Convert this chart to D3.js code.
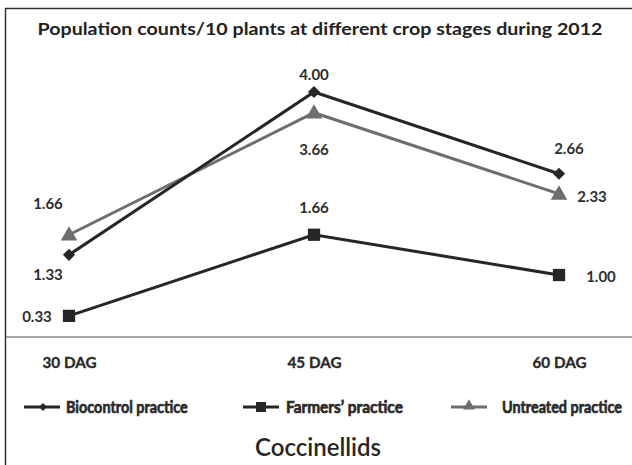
<!DOCTYPE html>
<html><head><meta charset="utf-8">
<script src="https://cdn.jsdelivr.net/npm/d3@7"></script>
<style>body{margin:0;background:#fff}svg{display:block}</style>
</head><body>
<script>
const categories = ["30 DAG", "45 DAG", "60 DAG"];
const biocontrol = [1.33, 4.00, 2.66];
const farmers = [0.33, 1.66, 1.00];
const untreated = [1.66, 3.66, 2.33];
const seriesNames = ["Biocontrol practice", "Farmers\u2019 practice", "Untreated practice"];
const valueLabels = [["1.33", "4.00", "2.66"], ["0.33", "1.66", "1.00"], ["1.66", "3.66", "2.33"]];
const title = "Population counts/10 plants at different crop stages during 2012";
const subtitle = "Coccinellids";

const W = 632, H = 465;
const svg = d3.select("body").append("svg").attr("width", W).attr("height", H);

const x = d3.scalePoint().domain(categories).range([69, 559]);
const y = d3.scaleLinear().domain([0, 4.5]).range([336, 61.5]);

// frame
svg.append("line").attr("x1", 5.5).attr("x2", 5.5).attr("y1", 8).attr("y2", H).attr("stroke", "#333").attr("stroke-width", 1.5);
svg.append("line").attr("x1", 5).attr("x2", W).attr("y1", 8.5).attr("y2", 8.5).attr("stroke", "#333").attr("stroke-width", 1.5);

// category axis
const xAxis = d3.axisBottom(x).tickSize(0).tickPadding(20);
const gx = svg.append("g").attr("transform", `translate(0,${y(0) + 1})`).call(xAxis);
gx.select(".domain").remove();
svg.append("line").attr("x1", 6).attr("x2", W).attr("y1", y(0) + 1).attr("y2", y(0) + 1).attr("stroke", "#888").attr("stroke-width", 1.5);
gx.selectAll("text").attr("font-family", "Lato, 'Open Sans', sans-serif")
  .attr("font-weight", "bold").attr("font-size", 16).attr("fill", "#2a2a2a")
  .attr("stroke", "#2a2a2a").attr("stroke-width", 0.35)
  .attr("textLength", 54).attr("lengthAdjust", "spacingAndGlyphs");

// title
svg.append("text").attr("x", 320).attr("y", 35).attr("text-anchor", "middle")
  .attr("font-family", "Lato, 'Open Sans', sans-serif").attr("font-weight", "bold").attr("font-size", 17)
  .attr("fill", "#222").attr("textLength", 565).attr("lengthAdjust", "spacingAndGlyphs").text(title);

const series = [
  {name: seriesNames[0], values: biocontrol, color: "#262626", marker: "diamond", labels: valueLabels[0]},
  {name: seriesNames[1], values: farmers, color: "#262626", marker: "square", labels: valueLabels[1]},
  {name: seriesNames[2], values: untreated, color: "#6e6e6e", marker: "triangle", labels: valueLabels[2]}
];
// label offsets (dx, dy) relative to point, per series per category
const offsets = [
  [[-21, 20], [0, -17], [10, -25]],
  [[-32, 1], [0, -27], [42, 2]],
  [[-21, -31], [0, 37], [33, 3]]
];

const sym = {
  diamond: d3.symbol().type(d3.symbolDiamond2 || d3.symbolDiamond).size(95),
  square: d3.symbol().type(d3.symbolSquare).size(150),
  triangle: d3.symbol().type(d3.symbolTriangle).size(120)
};
const symSmall = {
  diamond: d3.symbol().type(d3.symbolDiamond2 || d3.symbolDiamond).size(40),
  square: d3.symbol().type(d3.symbolSquare).size(100),
  triangle: d3.symbol().type(d3.symbolTriangle).size(60)
};

const line = d3.line().x((d, i) => x(categories[i])).y(d => y(d));
const order = [2, 1, 0];
order.forEach(si => {
  const s = series[si];
  svg.append("path").attr("d", line(s.values)).attr("fill", "none").attr("stroke", s.color).attr("stroke-width", 3);
  s.values.forEach((v, i) => {
    svg.append("path").attr("d", sym[s.marker]()).attr("fill", s.color)
      .attr("transform", `translate(${x(categories[i])},${y(v) + (s.marker === "triangle" ? 1 : 0)})`);
  });
});
series.forEach((s, si) => {
  s.values.forEach((v, i) => {
    svg.append("text").attr("x", x(categories[i]) + offsets[si][i][0]).attr("y", y(v) + offsets[si][i][1])
      .attr("dy", "0.35em").attr("text-anchor", "middle")
      .attr("font-family", "Lato, 'Open Sans', sans-serif").attr("font-weight", "bold").attr("font-size", 15)
      .attr("fill", "#2e2e2e").text(s.labels[i]);
  });
});

// legend
const legX = [24, 243, 451];
const legTextX = [42, 43, 51];
const legTextW = [122, 117, 120];
const leg = svg.append("g").attr("transform", "translate(0,407)");
series.forEach((s, si) => {
  const g = leg.append("g").attr("transform", `translate(${legX[si]},0)`);
  const lw = 36;
  g.append("line").attr("x1", 0).attr("x2", lw).attr("y1", 0).attr("y2", 0).attr("stroke", s.color).attr("stroke-width", 3);
  g.append("path").attr("d", symSmall[s.marker]()).attr("fill", s.color).attr("transform", `translate(${si === 0 ? 19 : 18},${s.marker === "triangle" ? -1 : 0})`);
  const tg = g.append("g").attr("transform", `translate(${legTextX[si]},0)`);
  const t = tg.append("text").attr("x", 0).attr("y", 0).attr("dy", "0.36em")
    .attr("font-family", "Lato, 'Open Sans', sans-serif")
    .attr("font-weight", "bold").attr("font-size", 17.5).attr("fill", "#2a2a2a")
    .attr("stroke", "#2a2a2a").attr("stroke-width", 0.7).text(s.name);
  const nat = t.node().getComputedTextLength();
  tg.attr("transform", `translate(${legTextX[si]},0) scale(${legTextW[si] / nat},1)`);
});

svg.append("text").attr("x", 318).attr("y", 456).attr("text-anchor", "middle")
  .attr("font-family", "Lato, 'Open Sans', sans-serif").attr("font-size", 24).attr("font-weight", 600)
  .attr("fill", "#262626").attr("textLength", 126).attr("lengthAdjust", "spacingAndGlyphs").text(subtitle);
</script>
</body></html>
